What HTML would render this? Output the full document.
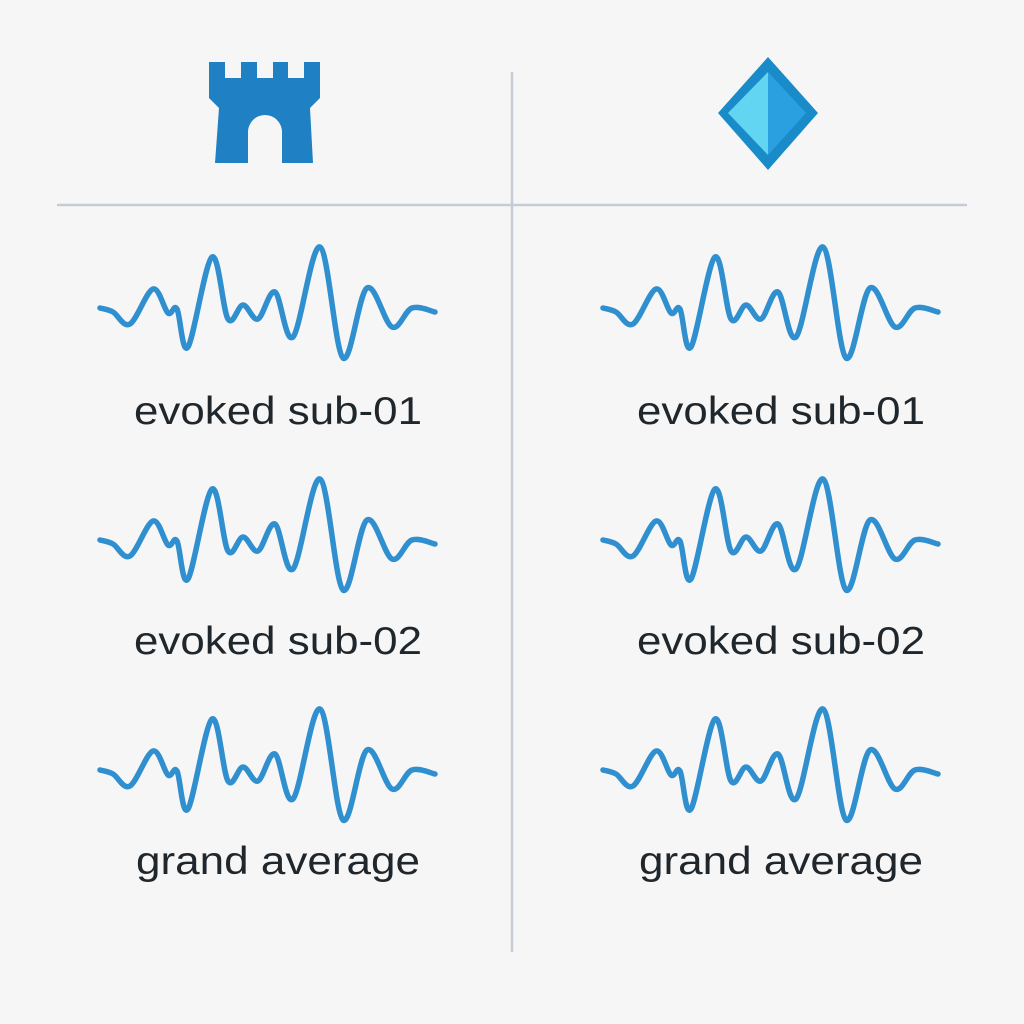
<!DOCTYPE html>
<html><head><meta charset="utf-8"><style>
html,body{margin:0;padding:0;background:#f7f6f6}
svg{display:block}
text{font-family:"Liberation Sans","DejaVu Sans",sans-serif;fill:#1f272d}
</style></head><body>
<svg id="c" width="1024" height="1024" viewBox="0 0 1024 1024">
<rect width="1024" height="1024" fill="#f7f6f6"/>
<line x1="512" y1="72" x2="512" y2="952" stroke="#c5ccd6" stroke-width="2.5"/>
<line x1="57" y1="205" x2="967" y2="205" stroke="#c5ccd6" stroke-width="2.5"/>
<path d="M209 62H225V78H241V62H257V78H273V62H288V78H304V62H320V98L310 108L313 163H282V132A17 17 0 0 0 248 132V163H215L219 108L209 98Z" fill="#1f80c4"/>
<g>
<polygon points="768,57 818,113 768,170 718,113" fill="#1a8bc9"/>
<polygon points="768,72 768,155 728,113" fill="#62d5f2"/>
<polygon points="768,72 806,113 768,155" fill="#2aa0e0"/>
</g>
<g id="waves"></g>
</svg>
<script>
const times=[0,13,30,53,68,77,88,112,128,143,158,175,193,220,243,267,292,312,335];
const amplitudes=[0,-4,-16,19,-5,-1,-39,51,-11,3,-11,16,-29,61,-50,20,-19,0,-4];
const labels=["evoked sub-01","evoked sub-02","grand average"];
const columns=[100,603];
const rowBaselines=[308,540,770];
const labelYs=[424,654,874];
const ns="http://www.w3.org/2000/svg";
const g=document.getElementById('waves');
function path(x0,y0){
  const p=times.map((t,i)=>[x0+t,y0-amplitudes[i]]);
  let d="M"+p[0][0]+" "+p[0][1];
  for(let i=0;i<p.length-1;i++){
    const a=p[Math.max(0,i-1)],b=p[i],c=p[i+1],e=p[Math.min(p.length-1,i+2)];
    const c1=[b[0]+(c[0]-a[0])/6,b[1]+(c[1]-a[1])/6];
    const c2=[c[0]-(e[0]-b[0])/6,c[1]-(e[1]-b[1])/6];
    d+=` C${c1[0].toFixed(1)} ${c1[1].toFixed(1)} ${c2[0].toFixed(1)} ${c2[1].toFixed(1)} ${c[0]} ${c[1]}`;
  }
  return d;
}
columns.forEach((cx,ci)=>{
  rowBaselines.forEach((by,ri)=>{
    const pe=document.createElementNS(ns,'path');
    pe.setAttribute('d',path(cx,by));
    pe.setAttribute('fill','none');
    pe.setAttribute('stroke','#2f8fcf');
    pe.setAttribute('stroke-width','5.5');
    pe.setAttribute('stroke-linecap','round');
    pe.setAttribute('stroke-linejoin','round');
    
    
    g.appendChild(pe);
    const tx=document.createElementNS(ns,'text');
    tx.textContent=labels[ri];
    tx.setAttribute('x',cx+178);
    tx.setAttribute('y',labelYs[ri]);
    tx.setAttribute('text-anchor','middle');
    tx.setAttribute('font-size','39');
    tx.setAttribute('textLength',ri==2?'284':'288');
    tx.setAttribute('lengthAdjust','spacingAndGlyphs');
    
    
    g.appendChild(tx);
  });
});
</script>
</body></html>
